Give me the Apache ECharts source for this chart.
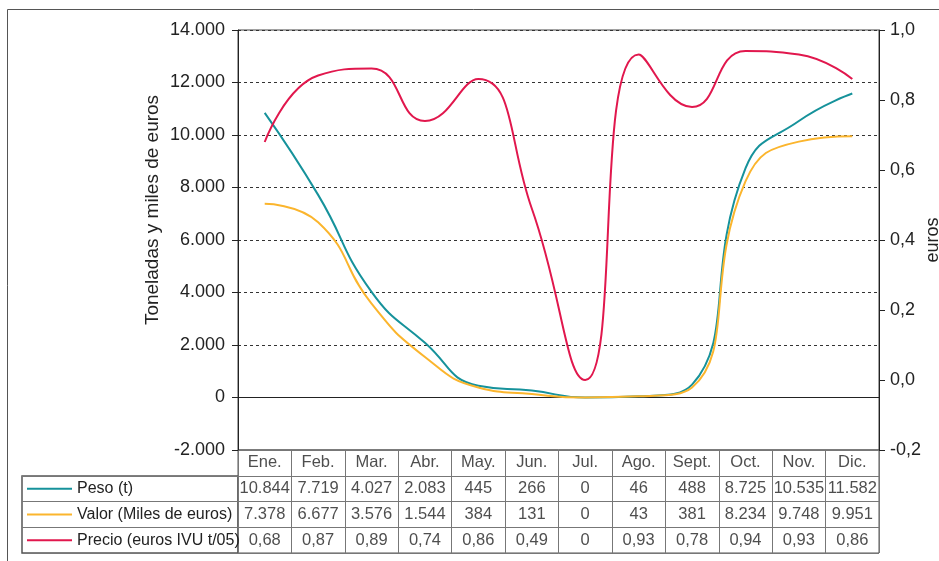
<!DOCTYPE html>
<html>
<head>
<meta charset="utf-8">
<script src="https://cdn.jsdelivr.net/npm/echarts@6/dist/echarts.min.js"></script>
<style>
    html, body { margin: 0; padding: 0; background: #fff; }
    #chart { width: 939px; height: 561px; }
</style>
</head>
<body>
<div id="chart"></div>
<script>
// datos de la tabla
var meses = ['Ene.', 'Feb.', 'Mar.', 'Abr.', 'May.', 'Jun.', 'Jul.', 'Ago.', 'Sept.', 'Oct.', 'Nov.', 'Dic.'];
var peso = [10844, 7719, 4027, 2083, 445, 266, 0, 46, 488, 8725, 10535, 11582];
var valor = [7378, 6677, 3576, 1544, 384, 131, 0, 43, 381, 8234, 9748, 9951];
var precio = [0.68, 0.87, 0.89, 0.74, 0.86, 0.49, 0, 0.93, 0.78, 0.94, 0.93, 0.86];
var nombres = ['Peso (t)', 'Valor (Miles de euros)', 'Precio (euros IVU t/05)'];
var colores = ['#16929b', '#fbb52d', '#e1174d'];

function fmtMiles(v) {
    return Math.round(v).toString().replace(/\B(?=(\d{3})+(?!\d))/g, '.');
}
function fmtPrecio(v) {
    return v === 0 ? '0' : v.toFixed(2).replace('.', ',');
}

// celdas de la tabla
var celdas = [];
for (var i = 0; i < meses.length; i++) {
    celdas.push({ name: meses[i], value: [i, 0] });
    celdas.push({ name: fmtMiles(peso[i]), value: [i, 1] });
    celdas.push({ name: fmtMiles(valor[i]), value: [i, 2] });
    celdas.push({ name: fmtPrecio(precio[i]), value: [i, 3] });
}

var rich = {};
for (var k = 0; k < colores.length; k++) {
    rich['l' + k] = { width: 45, height: 2, backgroundColor: colores[k], verticalAlign: 'middle' };
}
rich.t = { fontSize: 16, color: '#222', padding: [0, 0, 0, 5], verticalAlign: 'middle' };

var font = 'Liberation Sans, Arial, sans-serif';
var chart = echarts.init(document.getElementById('chart'));
var option = {
    animation: false,
    textStyle: { fontFamily: font },
    graphic: [
        {
            type: 'rect',
            shape: { x: 7.5, y: 9.5, width: 940, height: 560 },
            style: { fill: 'none', stroke: '#555', lineWidth: 1 }
        }
    ],
    grid: [
        { left: 238, right: 60, top: 30, height: 420, show: true, borderColor: '#444', borderWidth: 1, outerBoundsMode: 'none' },
        { left: 238, right: 60, top: 450, height: 103, show: true, borderColor: '#555', borderWidth: 1, outerBoundsMode: 'none' },
        { left: 22, width: 216, top: 476, height: 77, show: true, borderColor: '#555', borderWidth: 1.5, outerBoundsMode: 'none' }
    ],
    xAxis: [
        {
            gridIndex: 0,
            type: 'category',
            data: meses,
            boundaryGap: true,
            axisLine: { onZero: true, onZeroAxisIndex: 0, lineStyle: { color: '#222', width: 1.2 } },
            axisTick: { show: false },
            axisLabel: { show: false }
        },
        {
            gridIndex: 1,
            type: 'category',
            data: meses,
            axisLine: { show: false },
            axisTick: { show: false },
            axisLabel: { show: false },
            splitLine: { show: true, interval: 0, lineStyle: { color: '#777', width: 1 } }
        },
        {
            gridIndex: 2,
            type: 'value',
            min: 0,
            max: 1,
            show: false
        }
    ],
    yAxis: [
        {
            gridIndex: 0,
            type: 'value',
            min: -2000,
            max: 14000,
            interval: 2000,
            name: 'Toneladas y miles de euros',
            nameLocation: 'middle',
            nameRotate: 90,
            nameGap: 76,
            nameMoveOverlap: false,
            nameTextStyle: { fontSize: 19, color: '#222', padding: [0, 0, 0, 60] },
            axisLine: { show: true, lineStyle: { color: '#222' } },
            axisTick: { show: true, length: 6, lineStyle: { color: '#222' } },
            axisLabel: { fontSize: 18, color: '#222', margin: 13, formatter: fmtMiles },
            splitLine: { show: true, lineStyle: { color: '#333', type: [3, 3], width: 1 } }
        },
        {
            gridIndex: 0,
            type: 'value',
            min: -0.2,
            max: 1.0,
            interval: 0.2,
            position: 'right',
            name: 'euros',
            nameLocation: 'middle',
            nameRotate: 90,
            nameGap: 45,
            nameMoveOverlap: false,
            nameTextStyle: { fontSize: 18, color: '#222' },
            axisLine: { show: true, lineStyle: { color: '#222' } },
            axisTick: { show: true, length: 6, lineStyle: { color: '#222' } },
            axisLabel: {
                fontSize: 18, color: '#222', margin: 11,
                formatter: function (v) { return v.toFixed(1).replace('.', ','); }
            },
            splitLine: { show: false }
        },
        {
            gridIndex: 1,
            type: 'category',
            data: ['mes', 'peso', 'valor', 'precio'],
            inverse: true,
            axisLine: { show: false },
            axisTick: { show: false },
            axisLabel: { show: false },
            splitLine: { show: true, interval: 0, lineStyle: { color: '#777', width: 1 } }
        },
        {
            gridIndex: 2,
            type: 'category',
            data: nombres,
            inverse: true,
            axisLine: { show: false },
            axisTick: { show: false },
            axisLabel: {
                inside: true,
                margin: 5,
                formatter: function (v, idx) { return '{l' + idx + '|}{t|' + v + '}'; },
                rich: rich
            },
            splitLine: { show: true, interval: 0, lineStyle: { color: '#777', width: 1 } }
        }
    ],
    series: [
        {
            name: nombres[0],
            type: 'line',
            xAxisIndex: 0,
            yAxisIndex: 0,
            data: peso,
            smooth: 0.5,
            symbol: 'none',
            lineStyle: { color: colores[0], width: 2 }
        },
        {
            name: nombres[1],
            type: 'line',
            xAxisIndex: 0,
            yAxisIndex: 0,
            data: valor,
            smooth: 0.5,
            symbol: 'none',
            lineStyle: { color: colores[1], width: 2 }
        },
        {
            name: nombres[2],
            type: 'line',
            xAxisIndex: 0,
            yAxisIndex: 1,
            data: precio,
            smooth: 0.5,
            symbol: 'none',
            lineStyle: { color: colores[2], width: 2 }
        },
        {
            name: 'tabla',
            type: 'scatter',
            xAxisIndex: 1,
            yAxisIndex: 2,
            data: celdas,
            symbolSize: 0,
            silent: true,
            label: {
                show: true,
                position: 'inside',
                formatter: '{b}',
                fontSize: 16.5,
                color: '#222'
            }
        }
    ]
};
chart.setOption(option);
</script>
</body>
</html>
